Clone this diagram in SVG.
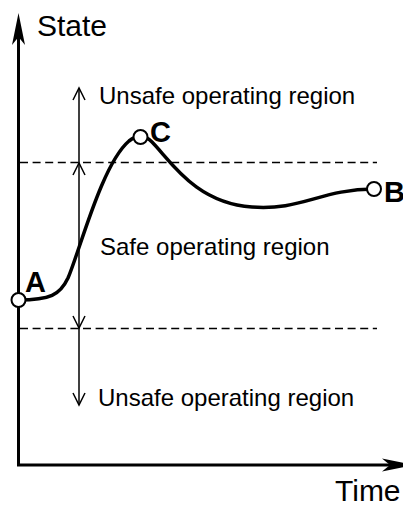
<svg xmlns="http://www.w3.org/2000/svg" width="403" height="506" viewBox="0 0 403 506">
  <style>
    text { font-family: "Liberation Sans", Arial, Helvetica, sans-serif; fill: #000; }
    .axis { stroke: #000; stroke-width: 3; fill: none; }
    .guide { stroke: #000; stroke-width: 1.5; stroke-dasharray: 8 4.6; fill: none; }
    .range { stroke: #000; stroke-width: 1.5; fill: none; }
    .head { stroke: #000; stroke-width: 1.5; fill: none; stroke-linejoin: miter; }
    .curve { stroke: #000; stroke-width: 3.5; fill: none; stroke-linecap: round; }
    .node { fill: #fff; stroke: #000; stroke-width: 2; }
    .lbl { font-size: 24px; }
    .axlbl { font-size: 30px; }
    .pt { font-size: 29px; font-weight: bold; }
  </style>

  <rect width="403" height="506" fill="#fff"/>

  <!-- axes -->
  <g id="axes">
    <path class="axis" d="M18.5 465 V36"/>
    <path class="axis" d="M17 465 H392"/>
    <polygon points="18.5,13 25,45 18.5,37 12,45" fill="#000"/>
    <polygon points="414,465 382,458.5 390,465 382,471.5" fill="#000"/>
    <text class="axlbl" x="37" y="36">State</text>
    <text class="axlbl" x="335" y="501">Time</text>
  </g>

  <!-- limits of the safe operating region -->
  <g id="limits">
    <path class="guide" d="M20 162.5 H377"/>
    <path class="guide" d="M20 328.5 H377"/>
  </g>

  <!-- region extent arrows and the state trajectory -->
  <g id="connectors">
    <path class="range" d="M79 88 V405"/>
    <path class="head" d="M73 100 L79 88 L85 100"/>
    <path class="head" d="M73 175 L79 163 L85 175"/>
    <path class="head" d="M73 316 L79 328 L85 316"/>
    <path class="head" d="M73 393 L79 405 L85 393"/>
    <path class="curve" d="M18.5 300 C50 300, 60 295, 68 278 C80 250, 102 164, 129 141 C138 134, 145 135, 152 142 C170 160, 195 203, 252 207 C300 211, 322 189, 374 189"/>
  </g>

  <!-- region labels -->
  <g id="regions">
    <text class="lbl" x="99" y="104">Unsafe operating region</text>
    <text class="lbl" x="100" y="255">Safe operating region</text>
    <text class="lbl" x="98" y="406">Unsafe operating region</text>
  </g>

  <!-- state points -->
  <g id="node-A">
    <circle class="node" cx="18.5" cy="300" r="7"/>
    <text class="pt" x="25" y="292">A</text>
  </g>
  <g id="node-C">
    <circle class="node" cx="140.5" cy="137" r="7"/>
    <text class="pt" x="150" y="142">C</text>
  </g>
  <g id="node-B">
    <circle class="node" cx="374" cy="189" r="7"/>
    <text class="pt" x="384" y="202">B</text>
  </g>
</svg>
